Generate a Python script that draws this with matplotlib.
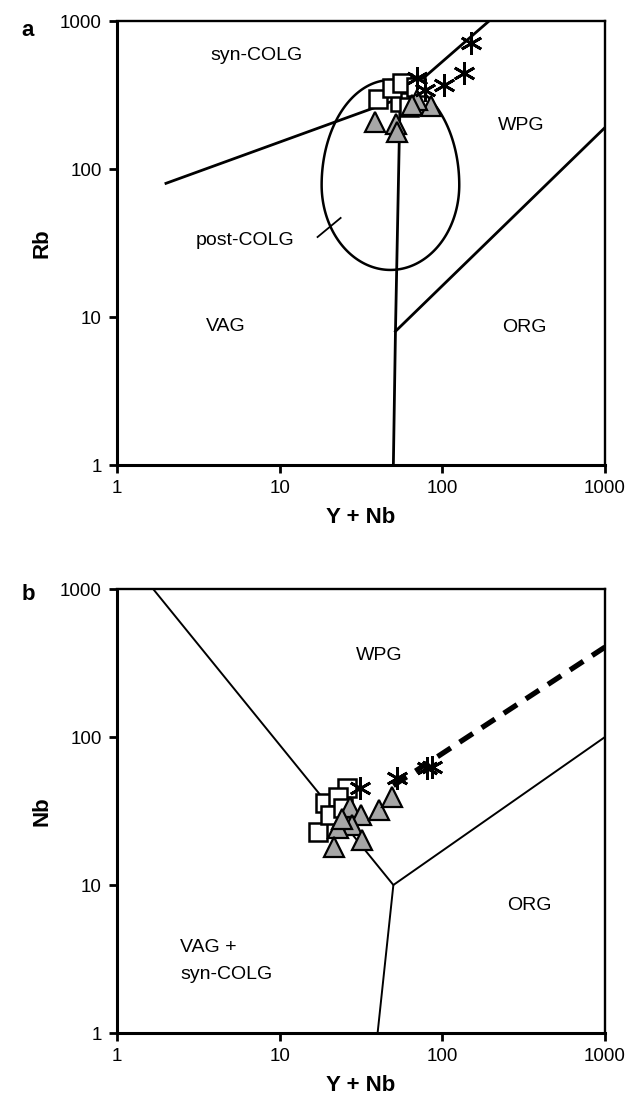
import matplotlib
matplotlib.use('Agg')
import matplotlib.pyplot as plt
from matplotlib.patches import Polygon
import numpy as np

plt.rcParams['font.family'] = ['Liberation Sans', 'DejaVu Sans']

# ---------------- Panel a: Rb vs Y+Nb ----------------
a_sq_x = [40.0, 55.2, 48.7, 56.8, 69.3, 62.8]
a_sq_y = [297, 284, 353, 381, 358, 262]
a_tri_x = [38.3, 52.0, 52.7, 85.6, 70.0, 65.5]
a_tri_y = [208, 201, 178, 267, 292, 271]
a_ast_x = [150, 136, 103, 70, 78]
a_ast_y = [710, 445, 370, 412, 340]

# field boundaries (Pearce et al. 1984)
a_b1_x = [2, 55, 400]          # VAG / syn-COLG / WPG
a_b1_y = [80, 300, 2000]
a_b2_x = [55, 51.5, 50]        # VAG / WPG-ORG
a_b2_y = [300, 8, 1]
a_b3_x = [51.5, 2000]          # WPG / ORG
a_b3_y = [8, 400]
a_tick_x = [17.1, 23.7]        # post-COLG pointer
a_tick_y = [34.7, 46.7]

# post-COLG field (in log10 units): centre, half widths
ell_cx, ell_cy = 1.681, 1.892
ell_ax = 0.423
ell_up, ell_dn = 0.709, 0.574

# ---------------- Panel b: Nb vs Y+Nb ----------------
b_sq_x = [18.9, 17.1, 25.8, 22.7, 20.3, 24.5]
b_sq_y = [35.8, 22.8, 45.2, 39.3, 29.7, 33.0]
b_tri_x = [26.9, 31.8, 27.7, 22.7, 21.7, 32.3, 41.0, 48.7, 24.0]
b_tri_y = [33.7, 29.7, 25.4, 24.3, 18.1, 20.1, 32.1, 39.3, 28.0]
b_ast_x = [31, 53, 81, 87]
b_ast_y = [45.2, 52.8, 61.8, 62.7]

b_b1_x = [1, 50, 1000]         # VAG+syn-COLG / WPG / ORG
b_b1_y = [2000, 10, 100]
b_b2_x = [50, 40]              # VAG / ORG
b_b2_y = [10, 1]
b_dash_x = [50, 1000]
b_dash_y = [47, 405]

W, H = 630, 1096
fig = plt.figure(figsize=(W / 100, H / 100), dpi=100)

def px2fig(x, y):
    return x / W, 1 - y / H

ax_a = fig.add_axes([117 / W, 1 - 465 / H, 488 / W, 444 / H])
ax_b = fig.add_axes([117 / W, 1 - 1033 / H, 488 / W, 444 / H])

ticks = [1, 10, 100, 1000]
tlabels = ['1', '10', '100', '1000']
for ax in (ax_a, ax_b):
    ax.set_xscale('log')
    ax.set_yscale('log')
    ax.set_xlim(1, 1000)
    ax.set_ylim(1, 1000)
    ax.set_xticks(ticks)
    ax.set_xticklabels(tlabels)
    ax.set_yticks(ticks)
    ax.set_yticklabels(tlabels)
    ax.minorticks_off()
    ax.tick_params(which='major', direction='out', length=6, width=2,
                   labelsize=13.5, pad=5)
    for s in ('left', 'bottom'):
        ax.spines[s].set_linewidth(2.2)
    for s in ('top', 'right'):
        ax.spines[s].set_linewidth(1.7)
    ax.set_xlabel('Y + Nb', fontsize=16, fontweight='bold', labelpad=7)

mk_sq = dict(marker='s', ms=13, mfc='white', mec='black', mew=1.8, ls='none', zorder=5)
mk_tri = dict(marker='^', ms=14, mfc='#a6a6a6', mec='black', mew=1.6, ls='none', zorder=6)
mk_ast = dict(marker=(6, 2, 0), ms=16, mfc='none', mec='black', mew=2.0, ls='none', zorder=7)

# ---- panel a ----
lw = 2.0
ax_a.plot(a_b1_x, a_b1_y, color='black', lw=lw, zorder=3)
ax_a.plot(a_b2_x, a_b2_y, color='black', lw=lw, zorder=3)
ax_a.plot(a_b3_x, a_b3_y, color='black', lw=lw, zorder=3)
ax_a.plot(a_tick_x, a_tick_y, color='black', lw=1.3, zorder=3)
t = np.linspace(0, 2 * np.pi, 400, endpoint=False)
ey = np.where(np.sin(t) > 0, ell_up, ell_dn)
ell_pts = np.column_stack([10 ** (ell_cx + ell_ax * np.cos(t)),
                           10 ** (ell_cy + ey * np.sin(t))])
ax_a.add_patch(Polygon(ell_pts, closed=True, fill=False, edgecolor='black',
                       lw=1.8, zorder=3, joinstyle='round'))
ax_a.plot(a_sq_x, a_sq_y, **mk_sq)
ax_a.plot(a_tri_x, a_tri_y, **mk_tri)
ax_a.plot(a_ast_x, a_ast_y, **mk_ast)

fs = 14
ax_a.text(7.2, 589, 'syn-COLG', fontsize=fs, ha='center', va='center')
ax_a.text(6.1, 33.1, 'post-COLG', fontsize=fs, ha='center', va='center')
ax_a.text(4.67, 8.56, 'VAG', fontsize=fs, ha='center', va='center')
ax_a.text(305, 198, 'WPG', fontsize=fs, ha='center', va='center')
ax_a.text(318, 8.43, 'ORG', fontsize=fs, ha='center', va='center')
ax_a.set_ylabel('Rb', fontsize=16, fontweight='bold', labelpad=5)

# ---- panel b ----
ax_b.plot(b_b1_x, b_b1_y, color='black', lw=1.4, zorder=3)
ax_b.plot(b_b2_x, b_b2_y, color='black', lw=1.4, zorder=3)
ax_b.plot(b_dash_x, b_dash_y, color='black', lw=3.8, ls=(0, (3, 2)), zorder=4)
ax_b.plot(b_sq_x, b_sq_y, **mk_sq)
ax_b.plot(b_tri_x, b_tri_y, **mk_tri)
ax_b.plot(b_ast_x, b_ast_y, **mk_ast)

ax_b.text(41, 358, 'WPG', fontsize=fs, ha='center', va='center')
ax_b.text(342, 7.3, 'ORG', fontsize=fs, ha='center', va='center')
ax_b.text(2.44, 3.81, 'VAG +', fontsize=fs, ha='left', va='center')
ax_b.text(2.44, 2.5, 'syn-COLG', fontsize=fs, ha='left', va='center')
ax_b.set_ylabel('Nb', fontsize=16, fontweight='bold', labelpad=5)

fig.text(*px2fig(28, 30), 'a', fontsize=16, fontweight='bold', ha='center', va='center')
fig.text(*px2fig(28, 595), 'b', fontsize=16, fontweight='bold', ha='center', va='center')

fig.savefig('out.png', dpi=100)
